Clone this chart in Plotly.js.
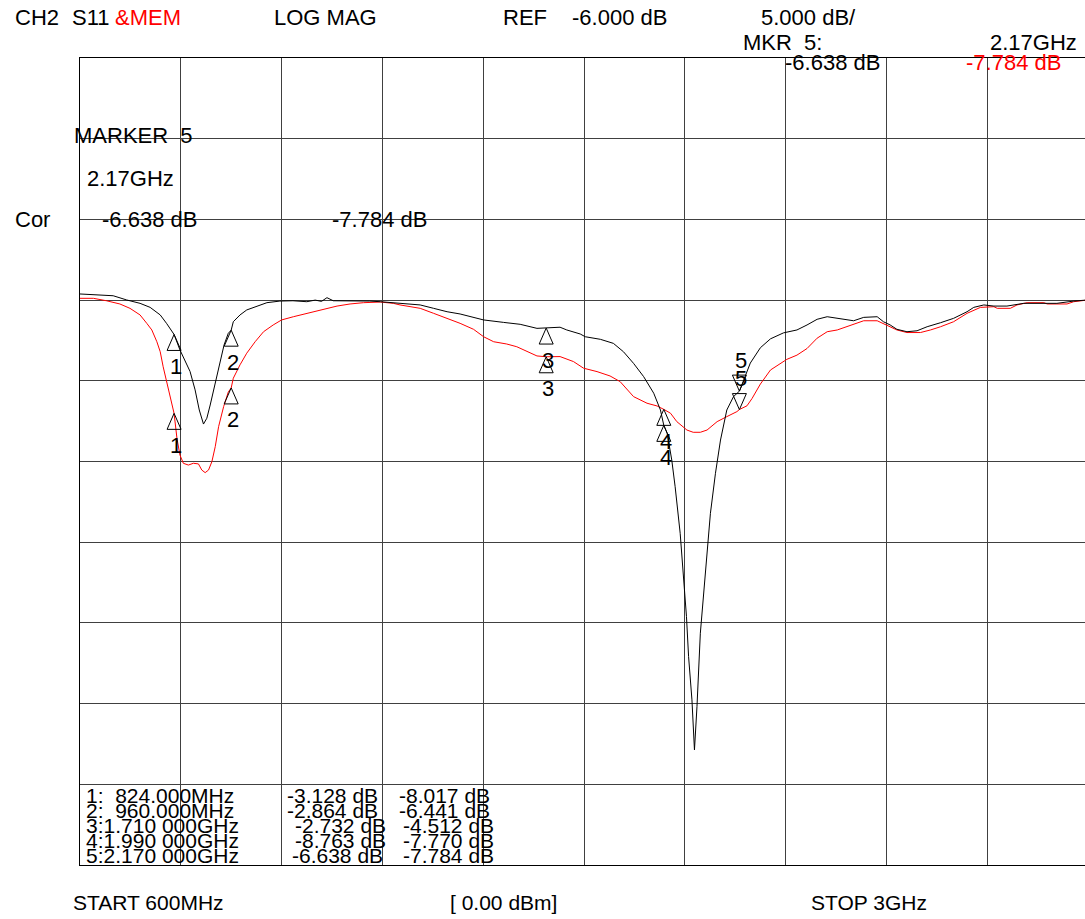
<!DOCTYPE html>
<html><head><meta charset="utf-8">
<script src="https://cdn.plot.ly/plotly-3.0.1.min.js"></script>
<style>html,body{margin:0;padding:0;background:#fff;overflow:hidden;}#chart{width:1088px;height:919px;}</style>
</head><body><div id="chart"></div>
<script>
// ---- data (frequency in MHz, magnitude in dB) ----
const blackFreq = [600,640,679,711,743,767,791,806,824,838,850,862,874,884,894,902,910,918,926,934,943,953,960,965,981,997,1021,1045,1076,1107,1140,1160,1175,1188,1203,1250,1290,1315,1362,1410,1442,1474,1505,1537,1561,1608,1648,1688,1710,1743,1759,1791,1803,1839,1870,1894,1918,1942,1966,1982,1990,1998,2009,2017,2029,2037,2044,2049,2057,2063,2069,2077,2089,2101,2113,2125,2140,2156,2170,2196,2220,2244,2275,2307,2331,2355,2379,2403,2426,2442,2466,2498,2513,2529,2545,2569,2593,2617,2649,2680,2712,2728,2752,2776,2807,2847,2926,2966,3000];
const blackDb = [-0.62,-0.66,-0.73,-0.99,-1.20,-1.45,-1.92,-2.44,-3.13,-4.09,-4.71,-5.42,-6.56,-7.81,-8.68,-8.32,-7.50,-6.56,-5.64,-4.71,-3.78,-3.06,-2.86,-2.34,-1.92,-1.61,-1.37,-1.16,-1.06,-1.04,-1.10,-1.00,-1.08,-0.85,-1.04,-1.04,-1.06,-1.10,-1.20,-1.30,-1.51,-1.72,-1.86,-2.07,-2.23,-2.38,-2.50,-2.75,-2.73,-2.68,-2.85,-3.10,-3.27,-3.43,-3.68,-4.20,-4.92,-5.74,-6.77,-7.81,-8.76,-9.25,-10.91,-12.56,-15.45,-17.93,-20.61,-23.09,-25.77,-28.87,-26.19,-21.64,-17.93,-14.21,-11.73,-9.67,-7.81,-6.98,-6.64,-4.90,-3.95,-3.40,-3.03,-2.85,-2.54,-2.19,-2.03,-2.13,-2.19,-2.28,-2.07,-2.03,-2.34,-2.54,-2.81,-2.96,-2.90,-2.65,-2.40,-2.13,-1.72,-1.45,-1.30,-1.37,-1.37,-1.20,-1.20,-1.06,-0.99];
const redFreq = [600,632,663,695,719,743,759,771,783,791,798,806,814,824,831,838,846,858,870,882,890,898,906,914,922,930,942,953,960,965,981,997,1017,1037,1060,1080,1108,1140,1172,1212,1243,1275,1315,1346,1362,1410,1442,1474,1505,1537,1561,1585,1616,1640,1664,1688,1710,1743,1775,1799,1831,1862,1886,1918,1950,1974,1990,2006,2021,2045,2060,2077,2093,2117,2140,2164,2170,2188,2200,2220,2244,2267,2283,2307,2331,2355,2379,2403,2426,2450,2466,2498,2521,2545,2569,2601,2625,2649,2680,2712,2744,2776,2784,2815,2831,2855,2895,2903,2950,2966,3000];
const redDb = [-0.89,-0.89,-1.04,-1.24,-1.51,-1.92,-2.44,-2.85,-3.58,-4.20,-5.13,-6.00,-6.90,-8.02,-9.60,-10.60,-11.11,-11.22,-11.11,-11.15,-11.53,-11.69,-11.53,-11.01,-10.08,-8.84,-7.60,-6.70,-6.44,-5.84,-5.01,-4.29,-3.58,-2.96,-2.54,-2.23,-2.03,-1.82,-1.61,-1.37,-1.24,-1.16,-1.12,-1.20,-1.30,-1.51,-1.82,-2.13,-2.44,-2.81,-3.27,-3.58,-3.72,-3.89,-4.20,-4.46,-4.51,-4.50,-4.81,-5.22,-5.43,-5.70,-6.05,-6.98,-7.39,-7.56,-7.77,-8.01,-8.53,-9.05,-9.19,-9.19,-9.05,-8.53,-8.22,-7.91,-7.78,-7.55,-7.10,-6.20,-5.33,-4.92,-4.67,-4.41,-4.00,-3.36,-2.96,-2.85,-2.65,-2.44,-2.28,-2.28,-2.54,-2.85,-3.01,-3.01,-2.85,-2.65,-2.34,-1.82,-1.45,-1.41,-1.51,-1.51,-1.30,-1.16,-1.16,-1.24,-1.24,-1.10,-0.99];

const markerIds = ['1','2','3','4','5'];
const markerFreq = [824,960,1710,1990,2170];
const markerFreqText = ['  824.000MHz','  960.000MHz','1.710 000GHz','1.990 000GHz','2.170 000GHz'];
const markerBlackDb = [-3.128,-2.864,-2.732,-8.763,-6.638];
const markerRedDb = [-8.017,-6.441,-4.512,-7.770,-7.784];

const startMHz = 600, stopMHz = 3000, divMHz = 240;
const refDb = -6, dbPerDiv = 5;
const activeMarker = 5, activeMarkerText = '2.17GHz';

// ---- layout geometry ----
const W = 1088, H = 919, L = 80, R = 0, T = 58, B = 54;
const PW = W - L - R, PH = H - T - B;
const FONT = 'Liberation Sans, Arial, sans-serif';
function px(x){ return (x - L) / PW; }
function py(y){ return (H - B - y) / PH; }
function txt(text, x, y, o){
  o = o || {};
  return {text: text, xref:'paper', yref:'paper', x: px(x), y: py(y),
    xanchor: o.anchor || 'left', yanchor: 'middle', showarrow: false,
    borderpad: 0, font: {family: FONT, size: o.size || 22, color: o.color || '#000'}};
}
function fmtDb(v){ return v.toFixed(3) + ' dB'; }

const ai = activeMarker - 1;
const ann = [
  txt('CH2', 14, 18), txt('S11', 71, 18), txt('&MEM', 114, 18, {color:'#ff0000'}),
  txt('LOG MAG', 273, 18), txt('REF', 502, 18), txt(fmtDb(refDb), 571, 18),
  txt(dbPerDiv.toFixed(3) + ' dB/', 760, 18),
  txt('MKR  ' + activeMarker + ':', 742, 42), txt(activeMarkerText, 1078, 42, {anchor:'right'}),
  txt(fmtDb(markerBlackDb[ai]), 784, 62), txt(fmtDb(markerRedDb[ai]), 965, 62, {color:'#ff0000'}),
  txt('MARKER  ' + activeMarker, 73, 135), txt(activeMarkerText, 86, 178),
  txt('Cor', 14, 220), txt(fmtDb(markerBlackDb[ai]), 101, 220), txt(fmtDb(markerRedDb[ai]), 331, 220),
  txt('START ' + startMHz + 'MHz', 72, 902, {size:21}),
  txt('[ 0.00 dBm]', 449, 902, {size:21}),
  txt('STOP ' + (stopMHz/1000) + 'GHz', 810, 902, {size:21})
];

// marker table at bottom
const rowY = [795, 810, 825, 840, 855];
const col2Right = [379, 379, 387, 387, 384];
const col3Right = [491, 491, 495, 495, 495];
for (let i = 0; i < markerIds.length; i++) {
  ann.push(txt(markerIds[i] + ':' + markerFreqText[i], 85, rowY[i], {size:21}));
  ann.push(txt(fmtDb(markerBlackDb[i]), col2Right[i], rowY[i], {size:21, anchor:'right'}));
  ann.push(txt(fmtDb(markerRedDb[i]), col3Right[i], rowY[i], {size:21, anchor:'right'}));
}

// marker triangles and numbers
const shapes = [];
function addMarker(id, f, v, down){
  shapes.push({type:'path', xref:'x', yref:'y', xsizemode:'pixel', ysizemode:'pixel',
    xanchor: f, yanchor: v,
    path: down ? 'M0,0L-7,16L7,16Z' : 'M0,0L-7,-16L7,-16Z',
    line:{color:'#000', width:1}, fillcolor:'rgba(0,0,0,0)', layer:'above'});
  ann.push({text: id, xref:'x', yref:'y', x: f, y: v, xanchor:'center', yanchor:'middle',
    yshift: down ? 31 : -32, xshift: 2, showarrow:false, borderpad:0,
    font:{family: FONT, size: 22, color:'#000'}});
}
for (let i = 0; i < markerIds.length; i++) {
  const down = (i === ai);
  addMarker(markerIds[i], markerFreq[i], markerBlackDb[i], down);
  addMarker(markerIds[i], markerFreq[i], markerRedDb[i], down);
}

const traces = [
  {x: redFreq, y: redDb, type:'scatter', mode:'lines', line:{color:'#ff0000', width:1}, hoverinfo:'skip'},
  {x: blackFreq, y: blackDb, type:'scatter', mode:'lines', line:{color:'#000000', width:1}, hoverinfo:'skip'}
];

const axisCommon = {showgrid:true, gridcolor:'#404040', gridwidth:1, showticklabels:false, ticks:'',
  zeroline:false, showline:true, linecolor:'#000', linewidth:1, mirror:true, fixedrange:true};
const layout = {
  width: W, height: H, margin:{l:L, r:R, t:T, b:B, pad:0},
  paper_bgcolor:'#fff', plot_bgcolor:'#fff', showlegend:false,
  xaxis: Object.assign({range:[startMHz, stopMHz], tick0:startMHz, dtick:divMHz}, axisCommon),
  yaxis: Object.assign({range:[refDb - 6*dbPerDiv, refDb + 4*dbPerDiv], tick0:refDb, dtick:dbPerDiv}, axisCommon),
  annotations: ann, shapes: shapes
};
Plotly.newPlot('chart', traces, layout, {displayModeBar:false, staticPlot:true});
</script></body></html>
